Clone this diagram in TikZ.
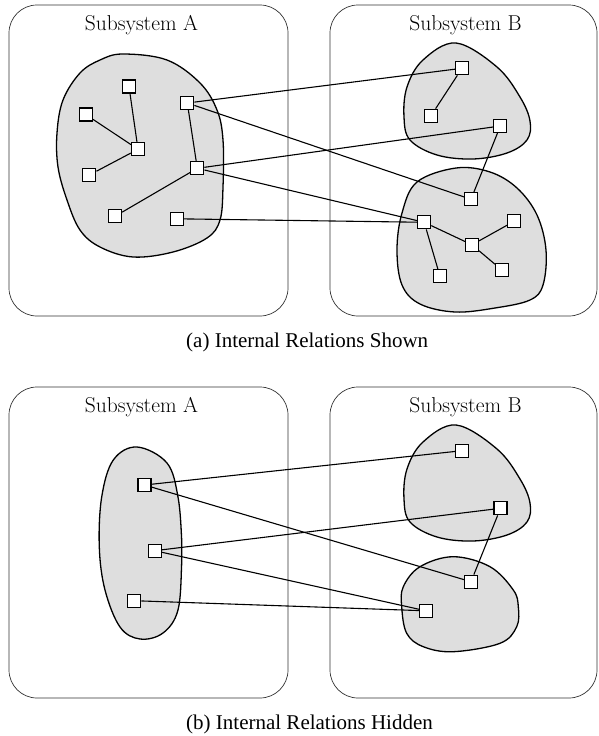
\documentclass[tikz,border=0pt]{standalone}
\usepackage{fontspec}
\newfontfamily\capfont{Liberation Serif}
\begin{document}
\begin{tikzpicture}[x=1pt,y=-1pt,
  box/.style={draw=black!80, line width=0.7pt, rounded corners=28pt},
  blob/.style={draw=black, line width=1.3pt, fill={rgb,255:red,222;green,222;blue,222}},
  sq/.style={draw=black, fill=white, line width=1.2pt, minimum size=13pt, inner sep=0pt},
  rel/.style={draw=black, line width=1.1pt},
  sublabel/.style={font=\fontsize{21.5}{26}\selectfont, anchor=base, inner sep=0pt},
  caplabel/.style={font=\capfont\fontsize{21}{25}\selectfont, anchor=base west, inner sep=0pt}]
\useasboundingbox (0,0) rectangle (599,736);

% ---------- panel (a) ----------
\draw[box] (9,5) rectangle (288,316);
\draw[box] (330,5) rectangle (597,316);
\node[sublabel] (la) at (141.5,30) {Subsystem A};
\node[sublabel] (lb) at (465.5,30) {Subsystem B};

\path[blob] plot[smooth cycle, tension=0.6] coordinates {
 (123,54) (167,60) (200,83) (217,110) (223,140) (223,187) (220,220) (207,238)
 (173,252) (133,257) (100,247) (80,230) (67,200) (58,167) (57,133) (63,100) (80,73) (100,60)};
\path[blob] plot[smooth cycle, tension=0.6] coordinates {
 (456,43) (497,67) (520,97) (530,121) (527,140) (507,153) (473,159) (437,155)
 (410,140) (404,117) (407,87) (423,60)};
\path[blob] plot[smooth cycle, tension=0.6] coordinates {
 (456,168) (490,172) (517,188) (537,215) (546,250) (543,285) (530,300) (495,308)
 (455,312) (420,304) (402,285) (397,250) (402,213) (417,182)};

\node[sq] (a1) at (129,86.5) {};
\node[sq] (a2) at (85.7,114.5) {};
\node[sq] (a3) at (138,149.3) {};
\node[sq] (a4) at (89.3,175) {};
\node[sq] (a5) at (187.3,103) {};
\node[sq] (a6) at (197.3,168.3) {};
\node[sq] (a7) at (115,216.3) {};
\node[sq] (a8) at (176.7,218.8) {};

\node[sq] (b1) at (462,68.3) {};
\node[sq] (b2) at (431,115.7) {};
\node[sq] (b3) at (500.3,126) {};
\node[sq] (b4) at (471,199.3) {};
\node[sq] (b5) at (424.2,222.3) {};
\node[sq] (b6) at (472,244.8) {};
\node[sq] (b7) at (514.3,221.2) {};
\node[sq] (b8) at (440,276.3) {};
\node[sq] (b9) at (502,270.2) {};

\draw[rel] (a1) -- (a3);
\draw[rel] (a2) -- (a3);
\draw[rel] (a4) -- (a3);
\draw[rel] (a5) -- (a6);
\draw[rel] (a6) -- (a7);
\draw[rel] (b1) -- (b2);
\draw[rel] (b3) -- (b4);
\draw[rel] (b5) -- (b6);
\draw[rel] (b6) -- (b7);
\draw[rel] (b6) -- (b9);
\draw[rel] (b5) -- (b8);
\draw[rel] (a5) -- (b1);
\draw[rel] (a5) -- (b4);
\draw[rel] (a6) -- (b3);
\draw[rel] (a6) -- (b5);
\draw[rel] (a8) -- (b5);

\node[caplabel] (capa) at (186,347) {(a) Internal Relations Shown};

% ---------- panel (b) ----------
\draw[box] (9,387) rectangle (288,698);
\draw[box] (330,387) rectangle (597,698);
\node[sublabel] (la2) at (141.5,412) {Subsystem A};
\node[sublabel] (lb2) at (465.5,412) {Subsystem B};

\path[blob] plot[smooth cycle, tension=0.6] coordinates {
 (137,447) (167,463) (178,497) (181.7,540) (181.7,563) (178,610) (163,633) (140,639)
 (120,627) (105,590) (99.3,547) (101.7,497) (113.3,460)};
\path[blob] plot[smooth cycle, tension=0.6] coordinates {
 (456,425) (497,449) (520,479) (530,503) (527,522) (507,535) (473,541) (437,537)
 (410,522) (404,499) (407,469) (423,442)};
\path[blob] plot[smooth cycle, tension=0.6] coordinates {
 (453.3,556.7) (490,566.7) (513.3,590) (518.3,606.7) (516.7,626.7) (500,643.3) (453.3,651.7)
 (423.3,646.7) (406.7,633.3) (401.7,606.7) (403.3,586.7) (420,566.7)};

\node[sq] (c1) at (144.5,485) {};
\node[sq] (c2) at (154.8,550.7) {};
\node[sq] (c3) at (134.2,600.7) {};

\node[sq] (d1) at (462,450.7) {};
\node[sq] (d2) at (500.5,508.3) {};
\node[sq] (d3) at (471,581.7) {};
\node[sq] (d4) at (426,610.8) {};

\draw[rel] (d2) -- (d3);
\draw[rel] (c1) -- (d1);
\draw[rel] (c1) -- (d3);
\draw[rel] (c2) -- (d2);
\draw[rel] (c2) -- (d4);
\draw[rel] (c3) -- (d4);

\node[caplabel] (capb) at (186,729) {(b) Internal Relations Hidden};
\end{tikzpicture}
\end{document}
